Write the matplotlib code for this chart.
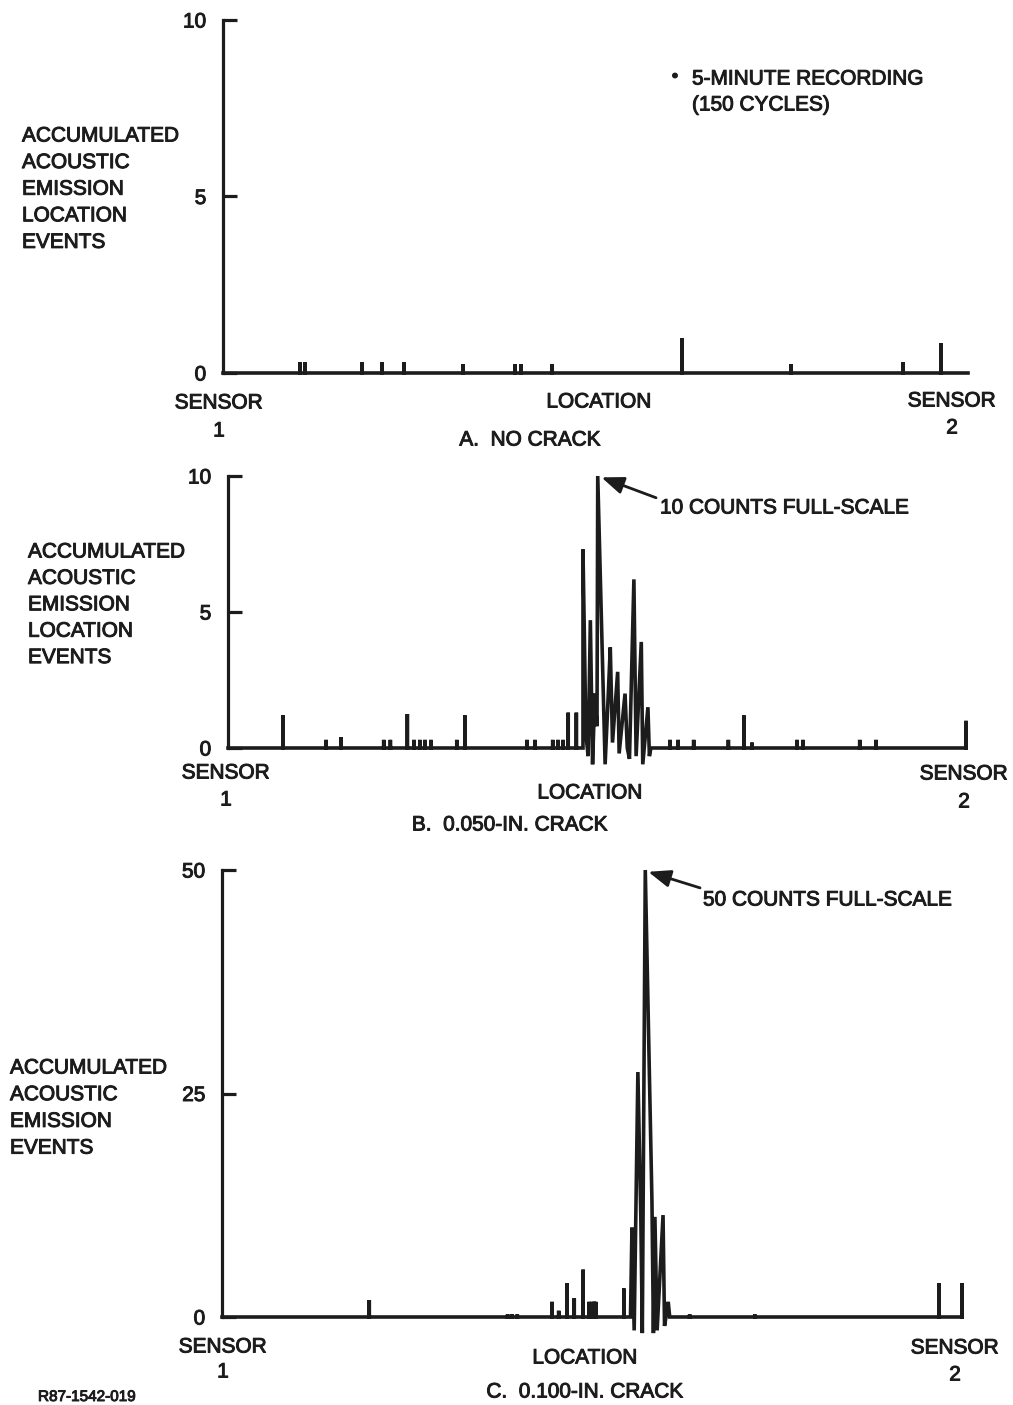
import matplotlib.pyplot as plt
import matplotlib.patheffects as pe
import numpy as np

# acoustic emission location events, location in % of sensor span (0 = sensor 1, 100 = sensor 2)
a_loc = [10.3, 11.0, 18.7, 21.3, 24.3, 32.2, 39.2, 40.0, 44.2, 61.6, 76.2, 91.3, 96.4]
a_cnt = [0.3, 0.3, 0.3, 0.3, 0.3, 0.25, 0.25, 0.25, 0.25, 1.0, 0.25, 0.3, 0.85]

b_loc = [7.45, 13.3, 15.3, 21.1, 22.0, 24.3, 25.2, 26.0, 26.7, 27.5, 31.0, 32.1,
         40.5, 41.6, 44.0, 44.7, 45.4, 46.1, 47.2, 59.9, 61.0, 63.1, 67.8, 69.9,
         71.0, 77.1, 77.9, 85.6, 87.8, 100.0]
b_cnt = [1.2, 0.3, 0.4, 0.3, 0.3, 1.25, 0.3, 0.3, 0.3, 0.3, 0.3, 1.2,
         0.3, 0.3, 0.3, 0.3, 0.3, 1.3, 1.3, 0.3, 0.3, 0.3, 0.3, 1.2,
         0.2, 0.3, 0.3, 0.3, 0.3, 1.0]
# pen trace through the crack region (overshoot below zero included)
b_pen_x = [48.1, 48.1, 48.5, 48.8, 49.1, 49.4, 49.7, 50.0, 50.1, 51.1, 51.5, 51.8,
           52.1, 52.8, 53.0, 53.8, 54.1, 54.4, 55.0, 55.3, 56.0, 56.2, 56.9, 57.1, 57.3]
b_pen_y = [0.0, 7.3, 0.5, -0.3, 4.7, -0.6, 2.0, 0.8, 10.0, -0.6, 1.8, 3.7,
           0.2, 2.8, -0.2, 2.0, 0.0, -0.4, 6.2, -0.3, 3.9, -0.6, 1.5, -0.3, 0.0]

c_loc = [19.9, 38.6, 39.2, 39.9, 44.6, 45.5, 46.6, 47.6, 48.8, 49.6, 50.0, 50.3,
         50.5, 54.3, 63.2, 72.0, 96.9, 100.0]
c_cnt = [1.9, 0.3, 0.3, 0.3, 1.7, 0.7, 3.8, 2.1, 5.3, 1.7, 1.7, 1.7,
         1.7, 3.2, 0.3, 0.3, 3.8, 3.8]
c_pen_x = [55.2, 55.4, 55.7, 56.2, 56.6, 56.8, 57.2, 58.1, 58.3, 58.5, 58.8, 59.6,
           59.8, 60.1, 60.3, 60.5]
c_pen_y = [0.0, 10.0, -1.5, 27.4, 11.0, -1.8, 50.0, 13.0, -1.8, 11.2, -1.5, 11.4,
           -1.0, 0.5, 1.7, 0.0]

W, H = 1013, 1405
INK = '#1c1c1c'
plt.rcParams['font.family'] = ['Liberation Sans', 'DejaVu Sans']
plt.rcParams['font.size'] = 15
HEAVY = [pe.withStroke(linewidth=0.7, foreground=INK)]

fig = plt.figure(figsize=(W / 100, H / 100), dpi=100)


def put(x, y, s, ha='left', size=15):
    fig.text(x / W, 1 - y / H, s, ha=ha, va='center', fontsize=size, color=INK,
             path_effects=HEAVY)


def trace(locs, cnts, px=None, py=None):
    # build the pen path: baseline with a vertical stroke for every event
    pieces = [(l, [l, l, l], [0, c, 0]) for l, c in zip(locs, cnts)]
    if px is not None:
        pieces.append((px[0], list(px), list(py)))
    pieces.sort(key=lambda p: p[0])
    xs, ys = [0.0], [0.0]
    for _, x, y in pieces:
        xs += x
        ys += y
    if xs[-1] < 100:
        xs.append(100.0)
        ys.append(0.0)
    return xs, ys


def panel(left, right, y0, ytop, ymax, ticks):
    ax = fig.add_axes([left / W, 1 - y0 / H, (right - left) / W, (y0 - ytop) / H])
    ax.set_xlim(0, 100)
    ax.set_ylim(0, ymax)
    for s in ['top', 'right', 'bottom']:
        ax.spines[s].set_visible(False)
    ax.spines['left'].set_linewidth(2.3)
    ax.spines['left'].set_color(INK)
    ax.set_xticks([])
    ax.set_yticks(ticks)
    ax.set_yticklabels([str(t) for t in ticks])
    ax.tick_params(axis='y', direction='in', length=10, width=2.3, color=INK,
                   labelsize=15, labelcolor=INK, pad=12)
    for lab in ax.get_yticklabels():
        lab.set_path_effects(HEAVY)
    ax.patch.set_alpha(0)
    return ax


def draw(ax, x, y):
    ax.plot(x, y, color=INK, lw=2.6, clip_on=False, solid_joinstyle='miter')


# A. no crack
ax1 = panel(223, 968, 373, 20, 10, [0, 5, 10])
draw(ax1, *trace(a_loc, a_cnt))
for i, s in enumerate(['ACCUMULATED', 'ACOUSTIC', 'EMISSION', 'LOCATION', 'EVENTS']):
    put(22, 136 + i * 26.6, s)
put(675, 77, '•', ha='center', size=13)
put(692, 79, '5-MINUTE RECORDING')
put(692, 105, '(150 CYCLES)')
put(219, 403, 'SENSOR', ha='center')
put(219, 431, '1', ha='center')
put(599, 402, 'LOCATION', ha='center')
put(952, 401, 'SENSOR', ha='center')
put(952, 428, '2', ha='center')
put(530, 440, 'A.  NO CRACK', ha='center')

# B. 0.050-in. crack
ax2 = panel(228, 966, 748, 476, 10, [0, 5, 10])
draw(ax2, *trace(b_loc, b_cnt, b_pen_x, b_pen_y))
ax2.annotate('', xy=(50.6, 9.95), xytext=(58.0, 9.2),
             arrowprops=dict(arrowstyle='-|>,head_length=0.9,head_width=0.35',
                             color=INK, lw=2, shrinkA=0, shrinkB=0))
put(660, 508, '10 COUNTS FULL-SCALE')
for i, s in enumerate(['ACCUMULATED', 'ACOUSTIC', 'EMISSION', 'LOCATION', 'EVENTS']):
    put(28, 552 + i * 26.4, s)
put(226, 773, 'SENSOR', ha='center')
put(226, 800, '1', ha='center')
put(590, 793, 'LOCATION', ha='center')
put(964, 774, 'SENSOR', ha='center')
put(964, 802, '2', ha='center')
put(510, 825, 'B.  0.050-IN. CRACK', ha='center')

# C. 0.100-in. crack
ax3 = panel(222, 962, 1317, 870, 50, [0, 25, 50])
draw(ax3, *trace(c_loc, c_cnt, c_pen_x, c_pen_y))
ax3.annotate('', xy=(57.6, 49.8), xytext=(64.6, 48.0),
             arrowprops=dict(arrowstyle='-|>,head_length=0.9,head_width=0.35',
                             color=INK, lw=2, shrinkA=0, shrinkB=0))
put(703, 900, '50 COUNTS FULL-SCALE')
for i, s in enumerate(['ACCUMULATED', 'ACOUSTIC', 'EMISSION', 'EVENTS']):
    put(10, 1068 + i * 26.7, s)
put(223, 1347, 'SENSOR', ha='center')
put(223, 1372, '1', ha='center')
put(585, 1358, 'LOCATION', ha='center')
put(955, 1348, 'SENSOR', ha='center')
put(955, 1375, '2', ha='center')
put(585, 1392, 'C.  0.100-IN. CRACK', ha='center')
put(38, 1397, 'R87-1542-019', size=11)

fig.savefig('out.png', dpi=100)
